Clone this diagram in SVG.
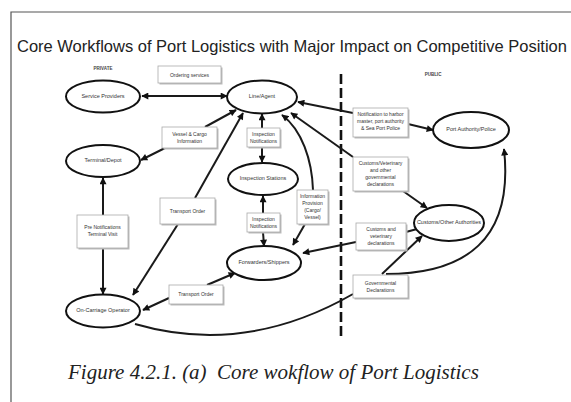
<svg xmlns="http://www.w3.org/2000/svg" width="571" height="402" viewBox="0 0 571 402">
  <style>
    .frame { fill: none; stroke: #555; stroke-width: 1.2; }
    .title { font-family: "Liberation Sans", Arial, sans-serif; font-size: 16.5px; fill: #222; }
    .caption { font-family: "Liberation Serif", "Times New Roman", serif; font-style: italic; font-size: 21px; fill: #222; }
    .side { font-family: "Liberation Sans", Arial, sans-serif; font-size: 4.5px; font-weight: bold; fill: #444; text-anchor: middle; }
    .node ellipse { fill: #fff; stroke: #111; stroke-width: 2; }
    .node text { font-family: "Liberation Sans", Arial, sans-serif; font-size: 5.5px; fill: #333; text-anchor: middle; dominant-baseline: middle; }
    .box rect.shadow { fill: #bbb; }
    .box rect.face { fill: #fff; stroke: #aaa; stroke-width: 0.8; }
    .box text { font-family: "Liberation Sans", Arial, sans-serif; font-size: 5px; fill: #333; text-anchor: middle; }
    .conn path { fill: none; stroke: #1a1a1a; stroke-width: 2; }
    .divider { stroke: #111; stroke-width: 2.6; stroke-dasharray: 10 4; }
  </style>
  <defs>
    <marker id="arrow" viewBox="0 0 10 10" refX="9" refY="5" markerUnits="userSpaceOnUse" markerWidth="8" markerHeight="7" orient="auto-start-reverse">
      <path d="M0,0 L10,5 L0,10 z" fill="#111"/>
    </marker>
  </defs>

  <rect width="571" height="402" fill="#fff"/>

  <!-- frame (top and left rules) -->
  <path class="frame" d="M11,402 V12 H571"/>

  <text class="title" x="17" y="52">Core Workflows of Port Logistics with Major Impact on Competitive Position</text>

  <!-- private / public divider -->
  <line class="divider" x1="341" y1="74" x2="341" y2="338"/>
  <text class="side" x="103" y="70">PRIVATE</text>
  <text class="side" x="433" y="76">PUBLIC</text>

  <!-- connectors -->
  <g id="connectors" class="conn">
    <path d="M142,96 L227,96" marker-start="url(#arrow)" marker-end="url(#arrow)"/>
    <path d="M205,127 L236,110" marker-end="url(#arrow)"/>
    <path d="M165,148 L141,160" marker-end="url(#arrow)"/>
    <path d="M262,128 L262,114" marker-end="url(#arrow)"/>
    <path d="M262,147 L262,162" marker-end="url(#arrow)"/>
    <path d="M195,198 L243,113" marker-end="url(#arrow)"/>
    <path d="M178,224 L133,295" marker-end="url(#arrow)"/>
    <path d="M353,113 L298,102" marker-end="url(#arrow)"/>
    <path d="M408,124 L433,130" marker-end="url(#arrow)"/>
    <path d="M353,157 L291,113" marker-end="url(#arrow)"/>
    <path d="M403,191 L427,208" marker-end="url(#arrow)"/>
    <path d="M313,190 C312,160 302,130 282,115" marker-end="url(#arrow)"/>
    <path d="M305,224 L293,245" marker-end="url(#arrow)"/>
    <path d="M103,215 L103,178" marker-end="url(#arrow)"/>
    <path d="M103,248 L103,294" marker-end="url(#arrow)"/>
    <path d="M263,213 L263,196" marker-end="url(#arrow)"/>
    <path d="M263,232 L264,246" marker-end="url(#arrow)"/>
    <path d="M417,229 L406,232"/>
    <path d="M356,242 L303,253" marker-end="url(#arrow)"/>
    <path d="M169,298 L143,310" marker-end="url(#arrow)"/>
    <path d="M207,285 L235,273" marker-end="url(#arrow)"/>
    <path d="M382,274 L422,236" marker-end="url(#arrow)"/>
    <path d="M386,274 C465,274 514,240 504,149" marker-end="url(#arrow)"/>
    <path d="M135,324 Q245,356 353,294"/>
  </g>

  <!-- ellipse nodes -->
  <g id="service-providers" class="node">
    <ellipse cx="103" cy="96.5" rx="37" ry="16"/>
    <text x="103" y="96.5">Service Providers</text>
  </g>
  <g id="line-agent" class="node">
    <ellipse cx="262" cy="97" rx="35" ry="16.5"/>
    <text x="262" y="97">Line/Agent</text>
  </g>
  <g id="terminal-depot" class="node">
    <ellipse cx="103" cy="161" rx="37" ry="16"/>
    <text x="103" y="161">Terminal/Depot</text>
  </g>
  <g id="inspection-stations" class="node">
    <ellipse cx="263" cy="179" rx="35" ry="16"/>
    <text x="263" y="179">Inspection Stations</text>
  </g>
  <g id="forwarders-shippers" class="node">
    <ellipse cx="264" cy="263" rx="37" ry="17"/>
    <text x="264" y="263">Forwarders/Shippers</text>
  </g>
  <g id="on-carriage-operator" class="node">
    <ellipse cx="103" cy="311" rx="37" ry="16.5"/>
    <text x="103" y="311">On-Carriage Operator</text>
  </g>
  <g id="port-authority" class="node">
    <ellipse cx="471" cy="130" rx="38" ry="18"/>
    <text x="471" y="130">Port Authority/Police</text>
  </g>
  <g id="customs-authorities" class="node">
    <ellipse cx="449" cy="223" rx="35" ry="18"/>
    <text x="449" y="223">Customs/Other Authorities</text>
  </g>

  <!-- message boxes -->
  <g id="ordering-services" class="box">
    <rect class="shadow" x="159.5" y="67.5" width="63" height="17"/>
    <rect class="face" x="158" y="66" width="63" height="17"/>
    <text x="189.5" y="76.5">Ordering services</text>
  </g>
  <g id="vessel-cargo-info" class="box">
    <rect class="shadow" x="163.5" y="128.5" width="55" height="21"/>
    <rect class="face" x="162" y="127" width="55" height="21"/>
    <text x="189.5" y="136">Vessel &amp; Cargo</text>
    <text x="189.5" y="143">Information</text>
  </g>
  <g id="inspection-notifications-upper" class="box">
    <rect class="shadow" x="248.5" y="129.5" width="33" height="19"/>
    <rect class="face" x="247" y="128" width="33" height="19"/>
    <text x="263.5" y="136">Inspection</text>
    <text x="263.5" y="143">Notifications</text>
  </g>
  <g id="transport-order-upper" class="box">
    <rect class="shadow" x="161.5" y="199.5" width="55" height="26"/>
    <rect class="face" x="160" y="198" width="55" height="26"/>
    <text x="187.5" y="213">Transport Order</text>
  </g>
  <g id="pre-notifications" class="box">
    <rect class="shadow" x="78.5" y="216.5" width="51" height="33"/>
    <rect class="face" x="77" y="215" width="51" height="33"/>
    <text x="102.5" y="229">Pre Notifications</text>
    <text x="102.5" y="236">Terminal Visit</text>
  </g>
  <g id="information-provision" class="box">
    <rect class="shadow" x="298.5" y="191.5" width="31" height="34"/>
    <rect class="face" x="297" y="190" width="31" height="34"/>
    <text x="312.5" y="198">Information</text>
    <text x="312.5" y="205">Provision</text>
    <text x="312.5" y="212">(Cargo/</text>
    <text x="312.5" y="219">Vessel)</text>
  </g>
  <g id="inspection-notifications-lower" class="box">
    <rect class="shadow" x="248.5" y="214.5" width="33" height="19"/>
    <rect class="face" x="247" y="213" width="33" height="19"/>
    <text x="263.5" y="221">Inspection</text>
    <text x="263.5" y="228">Notifications</text>
  </g>
  <g id="transport-order-lower" class="box">
    <rect class="shadow" x="170.5" y="286.5" width="54" height="19"/>
    <rect class="face" x="169" y="285" width="54" height="19"/>
    <text x="196" y="296">Transport Order</text>
  </g>
  <g id="harbor-notification" class="box">
    <rect class="shadow" x="354.5" y="109.5" width="55" height="29"/>
    <rect class="face" x="353" y="108" width="55" height="29"/>
    <text x="380.5" y="116">Notification to harbor</text>
    <text x="380.5" y="123">master, port authority</text>
    <text x="380.5" y="130">&amp; Sea Port Police</text>
  </g>
  <g id="customs-veterinary" class="box">
    <rect class="shadow" x="354.5" y="158.5" width="55" height="34"/>
    <rect class="face" x="353" y="157" width="55" height="34"/>
    <text x="380.5" y="165">Customs/Veterinary</text>
    <text x="380.5" y="172">and other</text>
    <text x="380.5" y="179">governmental</text>
    <text x="380.5" y="186">declarations</text>
  </g>
  <g id="customs-declarations" class="box">
    <rect class="shadow" x="357.5" y="224.5" width="50" height="27"/>
    <rect class="face" x="356" y="223" width="50" height="27"/>
    <text x="381" y="231">Customs and</text>
    <text x="381" y="238">veterinary</text>
    <text x="381" y="245">declarations</text>
  </g>
  <g id="governmental-declarations" class="box">
    <rect class="shadow" x="354.5" y="276.5" width="55" height="23"/>
    <rect class="face" x="353" y="275" width="55" height="23"/>
    <text x="380.5" y="285">Governmental</text>
    <text x="380.5" y="292">Declarations</text>
  </g>

  <text class="caption" x="68" y="379" xml:space="preserve">Figure 4.2.1. (a)  Core wokflow of Port Logistics</text>
</svg>
